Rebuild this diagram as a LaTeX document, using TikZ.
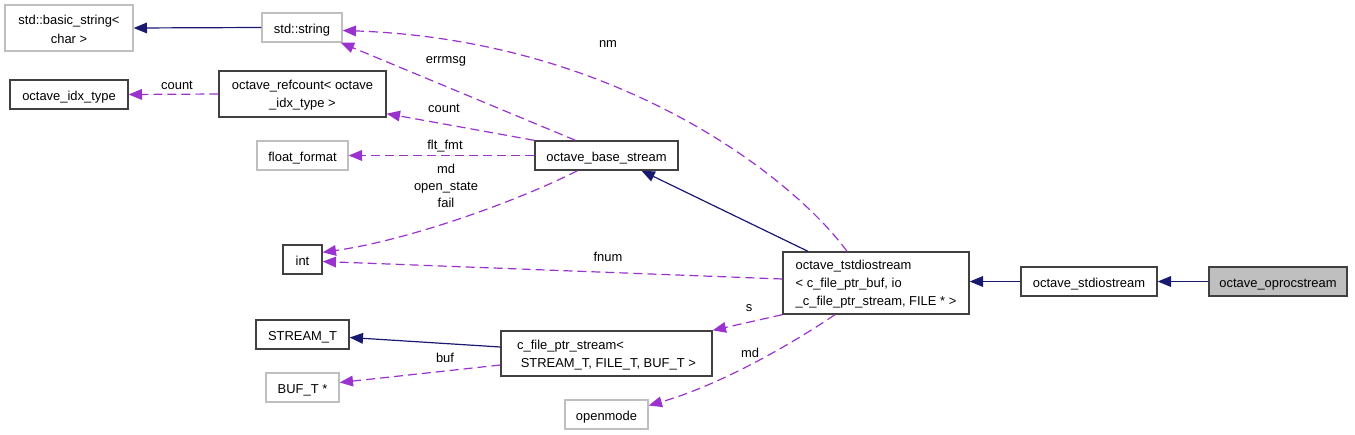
\documentclass[tikz,border=0pt]{standalone}
\usepackage{fontspec}
\setmainfont{Liberation Sans}
\usetikzlibrary{arrows.meta,calc}
\definecolor{navy}{HTML}{191970}
\definecolor{orch}{HTML}{9A32CD}
\definecolor{lgray}{HTML}{BFBFBF}
\definecolor{dgray}{HTML}{404040}
\newcommand{\topstrut}{\rule{0pt}{9pt}}
\begin{document}
\begin{tikzpicture}[x=0.75pt,y=-0.75pt,
  box/.style={draw=dgray, line width=1pt, inner sep=0pt, font=\fontsize{9.7}{13.7}\selectfont, align=center},
  ubox/.style={box, draw=lgray},
  one/.style={text height=9.3pt, text depth=1pt, minimum height=21.75pt},
  inh/.style={draw=navy, line width=0.9pt, -{Triangle[length=10pt,width=8pt]}},
  mem/.style={draw=orch, line width=0.9pt, dash pattern=on 6.75pt off 3.75pt, -{Triangle[length=10pt,width=8pt]}},
  lbl/.style={inner sep=0pt, font=\fontsize{9.7}{12.8}\selectfont, align=center}]
\useasboundingbox (0,0) rectangle (1355,435);
% nodes
\node[ubox, minimum width=96pt, minimum height=34.5pt] (bstr) at (69,28) {\topstrut std::basic\_string<\\char >};
\node[ubox, one, minimum width=60pt] (str) at (302,27.5) {std::string};
\node[box, one, minimum width=88.5pt] (idx) at (69,94.5) {octave\_idx\_type};
\node[box, minimum width=125.25pt, minimum height=34.5pt] (refc) at (302.5,94) {\topstrut octave\_refcount< octave\\\_idx\_type >};
\node[ubox, one, minimum width=68.25pt] (ff) at (302.5,155.5) {float\_format};
\node[box, one, minimum width=107.25pt] (bs) at (606.5,155.5) {octave\_base\_stream};
\node[box, one, minimum width=29.25pt] (int) at (302.5,259.5) {int};
\node[box, one, minimum width=69.75pt] (st) at (302.5,334.5) {STREAM\_T};
\node[ubox, one, minimum width=54.75pt] (buf) at (302.5,387.5) {BUF\_T *};
\node[box, minimum width=158.25pt, minimum height=33.75pt, align=left] (cfp) at (606.5,353.5) {\topstrut c\_file\_ptr\_stream<\\\hspace*{0.28em}STREAM\_T, FILE\_T, BUF\_T >};
\node[ubox, one, minimum width=62.25pt] (om) at (606.5,414.5) {openmode};
\node[box, minimum width=139.5pt, minimum height=46.5pt, align=left] (tst) at (876,283) {\topstrut octave\_tstdiostream\\< c\_file\_ptr\_buf, io\\\_c\_file\_ptr\_stream, FILE * >};
\node[box, one, minimum width=102pt] (sdio) at (1089,281.5) {octave\_stdiostream};
\node[box, one, fill=lgray, minimum width=103.5pt] (opr) at (1278,281.5) {octave\_oprocstream};
% edges
\draw[inh] (str.west) -- (bstr.east);
\draw[mem] (refc.west) -- (idx.east);
\draw[mem] ($(bs.north)+(-31,0)$) -- ($(str.south east)+(-2,0)$);
\draw[mem] (bs.north west) -- ($(refc.south east)+(0,-4)$);
\draw[mem] (bs.west) -- (ff.east);
\draw[mem] ($(bs.south)+(-29,0)$) .. controls (520,200) and (410,240) .. ($(int.north east)+(0,8)$);
\draw[mem] ($(tst.north)+(-29,0)$) .. controls (795,180) and (620,40) .. ($(str.east)+(0,3)$);
\draw[inh] ($(tst.north)+(-68,0)$) -- ($(bs.south)+(35,0)$);
\draw[mem] ($(tst.west)+(0,-4)$) -- ($(int.east)+(0,2)$);
\draw[mem] (tst.south west) -- (cfp.north east);
\draw[mem] ($(tst.south)+(-41,0)$) .. controls (790,345) and (720,385) .. ($(om.east)+(0,-9)$);
\draw[inh] ($(cfp.west)+(0,-6.5)$) -- ($(st.east)+(0,3)$);
\draw[mem] ($(cfp.west)+(0,11.5)$) -- ($(buf.east)+(0,-5)$);
\draw[inh] (sdio.west) -- (sdio.west -| tst.east);
\draw[inh] (opr.west) -- (sdio.east);
% labels
\node[lbl] (lnm) at (608,44) {nm};
\node[lbl] (lerr) at (446,61) {errmsg};
\node[lbl] (lcnt1) at (177,85) {count};
\node[lbl] (lcnt2) at (444,108) {count};
\node[lbl] (lflt) at (445,146) {flt\_fmt};
\node[lbl] (lmd1) at (446,186) {md\\open\_state\\fail};
\node[lbl] (lfnum) at (608,257) {fnum};
\node[lbl] (ls) at (749,308) {s};
\node[lbl] (lmd2) at (750,353) {md};
\node[lbl] (lbuf) at (445,358) {buf};
\end{tikzpicture}
\end{document}
